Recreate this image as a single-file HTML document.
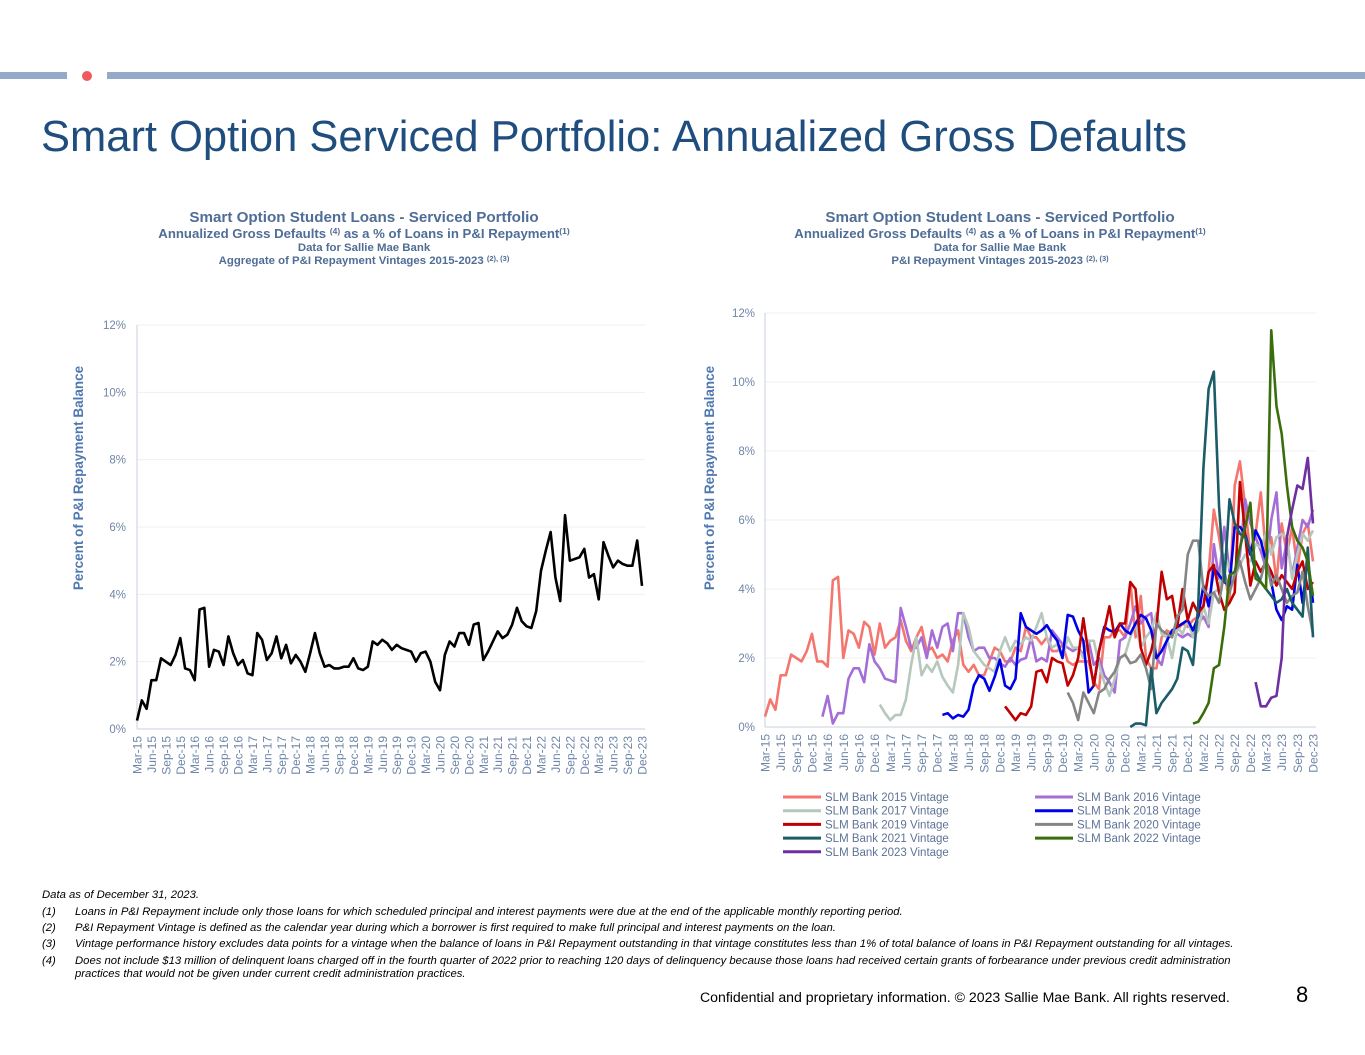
<!DOCTYPE html>
<html><head><meta charset="utf-8">
<style>
body{margin:0;width:1365px;height:1055px;background:#fff;overflow:hidden;font-family:"Liberation Sans",sans-serif;position:relative}
.abs{position:absolute}
.fn{position:absolute;font-style:italic;font-size:11.3px;line-height:13px;color:#000;white-space:nowrap}
</style></head>
<body>
<div class="abs" style="left:0;top:72px;width:67px;height:7px;background:#93abc8"></div>
<div class="abs" style="left:82px;top:71px;width:10px;height:10px;border-radius:50%;background:#f05a5a"></div>
<div class="abs" style="left:107px;top:72px;width:1258px;height:7px;background:#93abc8"></div>
<div class="abs" style="left:41px;top:113px;font-size:43.5px;color:#1f4e7e;white-space:nowrap">Smart Option Serviced Portfolio: Annualized Gross Defaults</div>

<svg class="abs" style="left:0;top:0" width="1365" height="880" id="svg">
<g font-family="Liberation Sans, sans-serif" font-weight="bold" fill="#4f6d96" text-anchor="middle">
<text x="364" y="222" font-size="15.2">Smart Option Student Loans - Serviced Portfolio</text>
<text x="364" y="238" font-size="13.2">Annualized Gross Defaults <tspan font-size="8.5" dy="-4">(4)</tspan><tspan dy="4"> as a % of Loans in P&amp;I Repayment</tspan><tspan font-size="8.5" dy="-4">(1)</tspan></text>
<text x="364" y="251" font-size="11.4">Data for Sallie Mae Bank</text>
<text x="364" y="264" font-size="11.4">Aggregate of P&amp;I Repayment Vintages 2015-2023 <tspan font-size="7.5" dy="-3">(2), (3)</tspan></text>
<text x="1000" y="222" font-size="15.2">Smart Option Student Loans - Serviced Portfolio</text>
<text x="1000" y="238" font-size="13.2">Annualized Gross Defaults <tspan font-size="8.5" dy="-4">(4)</tspan><tspan dy="4"> as a % of Loans in P&amp;I Repayment</tspan><tspan font-size="8.5" dy="-4">(1)</tspan></text>
<text x="1000" y="251" font-size="11.4">Data for Sallie Mae Bank</text>
<text x="1000" y="264" font-size="11.4">P&amp;I Repayment Vintages 2015-2023 <tspan font-size="7.5" dy="-3">(2), (3)</tspan></text>
</g>
<g id="left"></g>
<g id="right"></g>
</svg>

<div class="fn" style="left:42px;top:889px">Data as of December 31, 2023.</div>
<div class="fn" style="left:42px;top:906px">(1)</div>
<div class="fn" style="left:75px;top:906px">Loans in P&amp;I Repayment include only those loans for which scheduled principal and interest payments were due at the end of the applicable monthly reporting period.</div>
<div class="fn" style="left:42px;top:922px">(2)</div>
<div class="fn" style="left:75px;top:922px">P&amp;I Repayment Vintage is defined as the calendar year during which a borrower is first required to make full principal and interest payments on the loan.</div>
<div class="fn" style="left:42px;top:938px">(3)</div>
<div class="fn" style="left:75px;top:938px">Vintage performance history excludes data points for a vintage when the balance of loans in P&amp;I Repayment outstanding in that vintage constitutes less than 1% of total balance of loans in P&amp;I Repayment outstanding for all vintages.</div>
<div class="fn" style="left:42px;top:955px">(4)</div>
<div class="fn" style="left:75px;top:955px">Does not include $13 million of delinquent loans charged off in the fourth quarter of 2022 prior to reaching 120 days of delinquency because those loans had received certain grants of forbearance under previous credit administration<br>practices that would not be given under current credit administration practices.</div>
<div class="abs" style="left:700px;top:989px;font-size:14.1px;color:#000;white-space:nowrap">Confidential and proprietary information. © 2023 Sallie Mae Bank. All rights reserved.</div>
<div class="abs" style="left:1296px;top:982px;font-size:22px;color:#000">8</div>

<script>
const NS="http://www.w3.org/2000/svg";
const tickLabels=["0%","2%","4%","6%","8%","10%","12%"];
const tickValues=[0,2,4,6,8,10,12];
const months=["Mar","Jun","Sep","Dec"];
const years=[15,16,17,18,19,20,21,22,23];
const aggregate=[0.25,0.85,0.6,1.45,1.45,2.1,2.0,1.9,2.2,2.7,1.8,1.75,1.45,3.55,3.6,1.85,2.35,2.3,1.9,2.75,2.25,1.9,2.05,1.65,1.6,2.85,2.65,2.05,2.25,2.75,2.1,2.5,1.95,2.2,2.0,1.7,2.25,2.85,2.25,1.85,1.9,1.8,1.8,1.85,1.85,2.1,1.8,1.75,1.85,2.6,2.5,2.65,2.55,2.35,2.5,2.4,2.35,2.3,2.0,2.25,2.3,2.0,1.4,1.15,2.2,2.6,2.45,2.85,2.85,2.5,3.1,3.15,2.05,2.3,2.6,2.9,2.7,2.8,3.1,3.6,3.2,3.05,3.0,3.5,4.7,5.3,5.85,4.5,3.8,6.35,5.0,5.05,5.1,5.35,4.5,4.6,3.85,5.55,5.15,4.8,5.0,4.9,4.85,4.85,5.6,4.25];
const v2015=[0.3,0.8,0.5,1.5,1.5,2.1,2.0,1.9,2.2,2.7,1.9,1.9,1.75,4.25,4.35,2.0,2.8,2.7,2.3,3.05,2.9,2.1,3.0,2.3,2.5,2.6,3.1,2.5,2.2,2.6,2.9,2.2,2.3,2.0,2.1,1.9,2.5,2.8,1.8,1.6,1.8,1.5,1.5,1.9,2.3,2.2,1.9,1.9,2.3,2.2,2.9,2.6,2.6,2.4,2.6,2.2,2.2,2.4,1.9,1.8,1.9,1.9,1.9,1.3,1.1,2.6,2.6,2.8,2.8,2.6,4.2,2.6,3.8,2.0,1.7,1.7,2.6,2.8,2.7,2.8,3.0,2.9,3.1,3.2,3.5,4.5,6.3,5.5,4.5,3.6,7.0,7.7,6.4,5.0,5.6,6.8,5.0,5.5,4.2,5.9,5.0,5.8,4.6,5.6,5.9,4.8];
const v2016=[0.3,0.9,0.1,0.4,0.4,1.4,1.7,1.7,1.3,2.4,1.9,1.7,1.4,1.35,1.3,3.45,2.9,2.3,2.3,2.6,2.0,2.8,2.3,2.9,3.0,2.2,3.3,3.3,2.6,2.2,2.3,2.3,2.0,2.0,1.85,1.75,2.0,1.8,1.95,2.0,2.6,1.9,2.0,1.9,2.8,2.6,2.4,2.3,2.2,2.3,2.1,2.5,1.8,2.0,1.5,1.3,1.0,2.5,2.6,3.0,3.5,3.0,3.2,3.3,2.0,1.8,2.5,2.8,2.7,2.6,2.7,2.6,3.0,3.2,2.9,5.3,4.3,5.8,4.5,4.3,5.0,6.6,5.9,5.5,5.1,4.6,6.0,6.8,4.6,5.4,4.4,5.2,6.0,5.8,6.3];
const v2017=[0.65,0.4,0.2,0.35,0.35,0.8,1.8,2.6,1.5,1.8,1.6,1.9,1.45,1.2,1.0,1.8,3.3,2.9,2.2,2.0,1.8,1.7,1.6,2.2,2.6,2.2,2.5,2.4,2.6,2.5,2.9,3.3,2.6,2.3,2.4,2.0,2.6,2.3,2.3,2.0,2.5,2.5,1.8,1.3,0.9,1.4,2.0,2.1,2.6,3.0,2.3,2.6,2.8,3.3,2.7,2.6,2.0,2.9,2.7,3.1,2.6,2.8,3.5,3.0,3.9,4.0,5.0,4.6,4.3,4.7,5.0,4.8,5.3,5.2,5.6,5.0,5.5,5.6,5.5,4.3,5.0,5.6,5.4,5.7];
const v2018=[0.35,0.4,0.25,0.35,0.3,0.5,1.2,1.5,1.4,1.05,1.45,1.95,1.2,1.1,1.4,3.3,2.9,2.8,2.7,2.8,2.95,2.7,2.5,2.0,3.25,3.2,2.8,2.5,1.0,1.2,2.2,2.9,2.8,2.75,3.0,2.8,2.7,3.0,3.25,3.15,2.8,2.0,2.2,2.5,2.8,2.9,3.0,3.1,2.8,3.2,4.1,3.5,4.6,4.4,4.2,4.1,5.8,5.8,5.6,5.0,5.7,5.4,4.8,4.2,3.4,3.1,3.5,3.4,4.7,3.6,4.9,3.6,4.0,5.9];
const v2019=[0.6,0.4,0.2,0.4,0.35,0.6,1.6,1.65,1.3,2.0,1.9,1.85,1.2,1.5,2.0,3.15,2.1,1.2,2.2,2.8,3.5,2.6,3.0,3.0,4.2,4.0,2.3,1.8,2.2,2.9,4.5,3.7,3.8,2.9,4.0,3.1,3.6,3.3,3.5,4.5,4.7,3.9,3.4,3.6,3.9,7.1,5.6,4.1,4.8,4.5,4.8,4.5,4.1,4.4,4.2,4.0,4.5,4.8,4.0,4.2];
const v2020=[1.0,0.7,0.2,1.0,0.7,0.4,1.0,1.1,1.4,1.6,2.0,2.1,1.85,1.9,2.1,1.7,1.1,3.0,2.8,2.7,2.6,3.2,3.4,5.0,5.4,5.4,4.0,3.8,3.9,3.6,4.5,3.9,4.4,4.8,4.2,3.7,4.0,4.3,4.9,4.1,4.4,4.0,3.6,3.8,3.9,4.5,3.5,2.7];
const v2021=[0.0,0.1,0.1,0.05,1.7,0.4,0.7,0.9,1.1,1.4,2.3,2.2,1.8,3.5,7.5,9.8,10.3,6.4,4.2,6.6,5.9,5.6,5.5,5.1,4.5,4.2,4.0,3.8,3.6,3.7,4.0,3.6,3.4,3.2,5.2,2.6];
const v2022=[0.1,0.15,0.4,0.7,1.7,1.8,2.9,4.4,4.5,5.2,5.8,6.5,4.3,4.2,4.0,11.5,9.3,8.5,7.0,5.8,5.4,5.2,4.8,3.8];
const v2023=[1.3,0.6,0.6,0.85,0.9,2.0,5.5,6.3,7.0,6.9,7.8,5.9];
const series=[
 {name:"SLM Bank 2015 Vintage",start:0,vals:v2015,color:"#f4766e",key:"2015"},
 {name:"SLM Bank 2016 Vintage",start:11,vals:v2016,color:"#a56ed6",key:"2016"},
 {name:"SLM Bank 2017 Vintage",start:22,vals:v2017,color:"#b6c7bc",key:"2017"},
 {name:"SLM Bank 2018 Vintage",start:34,vals:v2018,color:"#0000e6",key:"2018"},
 {name:"SLM Bank 2019 Vintage",start:46,vals:v2019,color:"#c00000",key:"2019"},
 {name:"SLM Bank 2020 Vintage",start:58,vals:v2020,color:"#858585",key:"2020"},
 {name:"SLM Bank 2021 Vintage",start:70,vals:v2021,color:"#1a5c68",key:"2021"},
 {name:"SLM Bank 2022 Vintage",start:82,vals:v2022,color:"#3a6e0c",key:"2022"},
 {name:"SLM Bank 2023 Vintage",start:94,vals:v2023,color:"#6e2fa0",key:"2023"}
];
const N=106;
function mk(tag,attrs,parent){const e=document.createElementNS(NS,tag);for(const k in attrs)e.setAttribute(k,attrs[k]);parent.appendChild(e);return e;}

function axes(g,x0,x1,y0,y1,prefix,labelX,titleX){
  const xs=i=>x0+(x1-x0)*i/(N-1);
  const ys=v=>y0-(y0-y1)*v/12;
  tickValues.forEach((v,i)=>{
    if(v>0){const l=mk("line",{x1:x0,x2:x1+3,y1:ys(v),y2:ys(v),stroke:"#efefef","stroke-width":1},g);
    
    }
    const t=mk("text",{x:labelX,y:ys(v)+4,"font-size":11.5,fill:"#6f86a8","text-anchor":"end","font-family":"Liberation Sans, sans-serif"},g);
    t.textContent=tickLabels[i];
    
    
  });
  const ax=mk("line",{x1:x0,x2:x0,y1:y1,y2:y0,stroke:"#c9d2de","stroke-width":1},g);
  
  
  const bx=mk("line",{x1:x0,x2:x1+3,y1:y0,y2:y0,stroke:"#c9d2de","stroke-width":1},g);
  
  
  let k=0;
  years.forEach(y=>months.forEach(m=>{
    const i=k*3;k++;
    const px=xs(i)+4.5;
    const t=mk("text",{transform:`translate(${px},${y0+7}) rotate(-90)`,"font-size":12,fill:"#6f86a8","text-anchor":"end","font-family":"Liberation Sans, sans-serif"},g);
    t.textContent=m+"-"+y;
    
    
  }));
  const yt=mk("text",{transform:`translate(${titleX},${478}) rotate(-90)`,"font-size":13.5,"font-weight":"bold",fill:"#4f78b0","text-anchor":"middle","font-family":"Liberation Sans, sans-serif"},g);
  yt.textContent="Percent of P&I Repayment  Balance";
  
  
  return {xs,ys};
}
const L=document.getElementById("left");
const la=axes(L,137,642,729,325,"left",126,83);
const lp=mk("polyline",{points:aggregate.map((v,i)=>la.xs(i)+","+la.ys(v)).join(" "),fill:"none",stroke:"#000","stroke-width":2.6,"stroke-linejoin":"round"},L);


const R=document.getElementById("right");
const ra=axes(R,765,1313,727,313,"right",755,714);
series.forEach(s=>{
  const pts=[];
  s.vals.forEach((v,j)=>{const i=s.start+j;if(i<N)pts.push(ra.xs(i)+","+ra.ys(v));});
  const p=mk("polyline",{points:pts.join(" "),fill:"none",stroke:s.color,"stroke-width":2.6,"stroke-linejoin":"round"},R);
  
  
});
series.forEach((s,i)=>{
  const col=i%2,row=Math.floor(i/2);
  const lx=col?1035:783,ly=797+row*13.7;
  const g=mk("g",{},R);
  
  
  mk("line",{x1:lx,x2:lx+38,y1:ly,y2:ly,stroke:s.color,"stroke-width":3},g);
  const t=mk("text",{x:lx+42,y:ly+4,"font-size":11.5,fill:"#5f7396","font-family":"Liberation Sans, sans-serif"},g);
  t.textContent=s.name;
});
</script>
</body></html>
